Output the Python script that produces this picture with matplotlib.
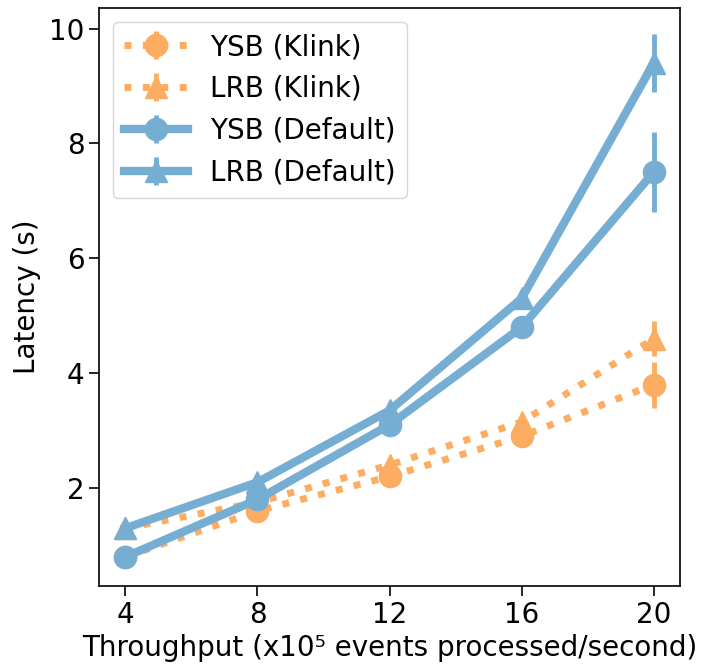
import matplotlib.pyplot as plt

# throughput levels (x10^5 events/s)
throughput = [4, 8, 12, 16, 20]

# latency in seconds, with error
ysb_klink = [0.8, 1.6, 2.2, 2.9, 3.8]
ysb_klink_err = [0.05, 0.05, 0.05, 0.1, 0.4]
lrb_klink = [1.3, 1.75, 2.4, 3.15, 4.6]
lrb_klink_err = [0.05, 0.05, 0.1, 0.1, 0.3]
ysb_default = [0.8, 1.8, 3.1, 4.8, 7.5]
ysb_default_err = [0.05, 0.05, 0.05, 0.05, 0.7]
lrb_default = [1.3, 2.1, 3.35, 5.3, 9.4]
lrb_default_err = [0.05, 0.05, 0.05, 0.05, 0.5]

orange = '#fdad62'
blue = '#76aed3'

fig, ax = plt.subplots(figsize=(7.07, 6.69), dpi=100)

ax.errorbar(throughput, ysb_klink, yerr=ysb_klink_err, color=orange, ls=':', lw=5,
            marker='o', ms=16, elinewidth=3.5, label='YSB (Klink)')
ax.errorbar(throughput, lrb_klink, yerr=lrb_klink_err, color=orange, ls=':', lw=5,
            marker='^', ms=16, elinewidth=3.5, label='LRB (Klink)')
ax.errorbar(throughput, ysb_default, yerr=ysb_default_err, color=blue, ls='-', lw=6,
            marker='o', ms=16, elinewidth=3.5, label='YSB (Default)')
ax.errorbar(throughput, lrb_default, yerr=lrb_default_err, color=blue, ls='-', lw=6,
            marker='^', ms=16, elinewidth=3.5, label='LRB (Default)')

ax.set_xticks(throughput)
ax.set_yticks([2, 4, 6, 8, 10])
ax.tick_params(labelsize=20, length=7, width=1.2)
for s in ax.spines.values():
    s.set_linewidth(1.2)
ax.set_xlabel('Throughput (x10\u2075 events processed/second)', fontsize=20)
ax.set_ylabel('Latency (s)', fontsize=20, labelpad=6)
ax.legend(loc='upper left', fontsize=20, handlelength=2.3)

fig.subplots_adjust(left=0.14, right=0.962, top=0.988, bottom=0.124)
fig.savefig('out.png')
